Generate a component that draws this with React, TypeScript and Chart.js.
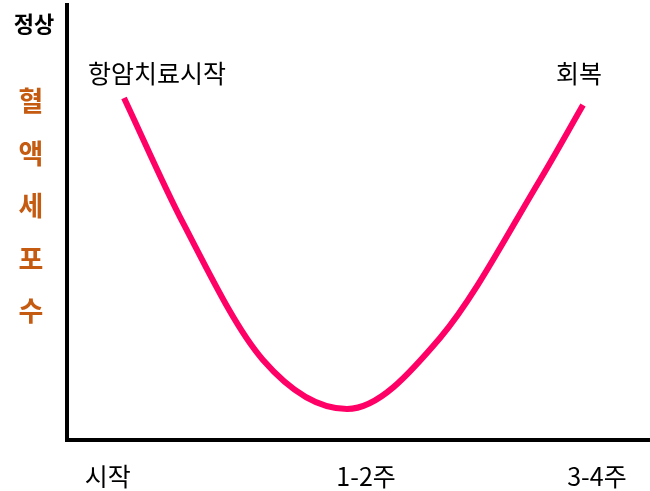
import React, { useEffect, useRef } from "react";
import { Chart, registerables } from "chart.js";

Chart.register(...registerables);

// Curve of blood cell count over time (abstract units)
const curveX = [9.78, 19.9, 33.62, 48.03, 63.98, 81.13, 88.51];
const curveY = [78.62, 49.89, 18.39, 7.13, 23.45, 59.77, 77.01];

const xTickValues = [7.0, 51.3, 90.9];
const xTickLabels = ["시작", "1-2주", "3-4주"];

const normalLevel = 95.7;
const normalLabel = "정상";

const yTitleChars = ["혈", "액", "세", "포", "수"];

const startLabel = "항암치료시작";
const endLabel = "회복";

const FONT = '"Noto Sans CJK KR", "Noto Sans", sans-serif';

const textPlugin = {
  id: "textPlugin",
  afterDraw(chart: any) {
    const ctx = chart.ctx;
    const xs = chart.scales.x;
    const ys = chart.scales.y;
    ctx.save();
    ctx.textAlign = "center";
    ctx.textBaseline = "middle";

    // x labels
    ctx.fillStyle = "#000";
    ctx.font = `400 25px ${FONT}`;
    xTickValues.forEach((v, i) => {
      ctx.fillText(xTickLabels[i], xs.getPixelForValue(v), ys.bottom + 36);
    });

    // normal label
    ctx.font = `700 22px ${FONT}`;
    ctx.fillText(normalLabel, 34, ys.getPixelForValue(normalLevel));

    // y title (stacked characters)
    ctx.fillStyle = "#C55A11";
    ctx.font = `700 27px ${FONT}`;
    yTitleChars.forEach((c, i) => {
      ctx.fillText(c, 31, 101 + i * 52.5);
    });

    // annotations
    const meta = chart.getDatasetMeta(0);
    const first = meta.data[0];
    const last = meta.data[meta.data.length - 1];
    ctx.fillStyle = "#000";
    ctx.font = `400 25px ${FONT}`;
    ctx.fillText(startLabel, first.x + 33, first.y - 25);
    ctx.fillText(endLabel, last.x - 4, last.y - 32);

    ctx.restore();
  },
};

export default function App() {
  const canvasRef = useRef<HTMLCanvasElement | null>(null);

  useEffect(() => {
    document.body.style.margin = "0";
    const canvas = canvasRef.current;
    if (!canvas) return;
    const chart = new Chart(canvas, {
      type: "line",
      data: {
        datasets: [
          {
            data: curveX.map((x, i) => ({ x, y: curveY[i] })),
            borderColor: "#FF0066",
            borderWidth: 6,
            pointRadius: 0,
            fill: false,
            cubicInterpolationMode: "monotone",
          },
        ],
      },
      options: {
        animation: false,
        responsive: true,
        maintainAspectRatio: false,
        layout: { padding: { left: 67, right: 0, top: 5, bottom: 51 } },
        plugins: {
          legend: { display: false },
          tooltip: { enabled: false },
        },
        scales: {
          x: {
            type: "linear",
            min: 0,
            max: 100,
            grid: { display: false, drawTicks: false, tickLength: 0 },
            ticks: { display: false },
            border: { display: true, color: "#000", width: 4 },
          },
          y: {
            type: "linear",
            min: 0,
            max: 100,
            grid: { display: false, drawTicks: false, tickLength: 0 },
            ticks: { display: false },
            border: { display: true, color: "#000", width: 4 },
          },
        },
      },
      plugins: [textPlugin],
    });
    return () => chart.destroy();
  }, []);

  return (
    <div style={{ position: "absolute", left: 0, top: 0, width: 650, height: 491, background: "#fff" }}>
      <canvas ref={canvasRef} />
    </div>
  );
}
